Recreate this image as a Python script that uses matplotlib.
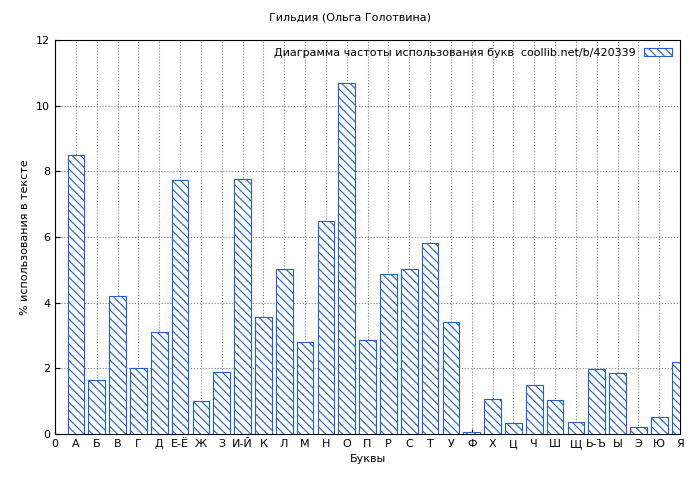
import matplotlib
matplotlib.use("Agg")
import matplotlib.pyplot as plt
import matplotlib as mpl

letters = ["А","Б","В","Г","Д","Е-Ё","Ж","З","И-Й","К","Л","М","Н","О","П","Р","С","Т","У","Ф","Х","Ц","Ч","Ш","Щ","Ь-Ъ","Ы","Э","Ю","Я"]
values = [8.5,1.65,4.2,2.0,3.1,7.75,1.0,1.88,7.78,3.57,5.03,2.8,6.5,10.68,2.85,4.88,5.03,5.82,3.42,0.05,1.08,0.35,1.48,1.03,0.38,1.97,1.85,0.22,0.53,2.2]
tick_labels = ["0"] + letters

mpl.rcParams['hatch.color'] = '#1f5fd0'
mpl.rcParams['hatch.linewidth'] = 0.8
fig = plt.figure(figsize=(7, 4.8), dpi=100)
ax = fig.add_axes([55/700, 1-434/480, 625/700, 394/480])
x = list(range(1, len(values)+1))
ax.bar(x, values, width=0.8, facecolor='white', edgecolor='#1f5fd0', hatch='\\\\\\\\', linewidth=0.8,
       label='Диаграмма частоты использования букв  coollib.net/b/420339', zorder=3)
ax.set_xlim(0, 30)
ax.set_ylim(0, 12)
ax.set_xticks(range(0, 31))
ax.set_xticklabels(tick_labels, fontsize=8)
ax.set_yticks(range(0, 13, 2))
ax.tick_params(labelsize=8, direction='in')
ax.grid(True, linestyle=':', color='gray', linewidth=0.8, zorder=0)
ax.set_xlabel('Буквы', fontsize=8)
ax.set_ylabel('% использования в тексте', fontsize=8)
fig.suptitle('Гильдия (Ольга Голотвина)', fontsize=8, y=0.975)
leg = ax.legend(loc='upper right', fontsize=8, frameon=False, handlelength=2.5, markerfirst=False, borderaxespad=0.3)
plt.savefig('out.png', dpi=100)
